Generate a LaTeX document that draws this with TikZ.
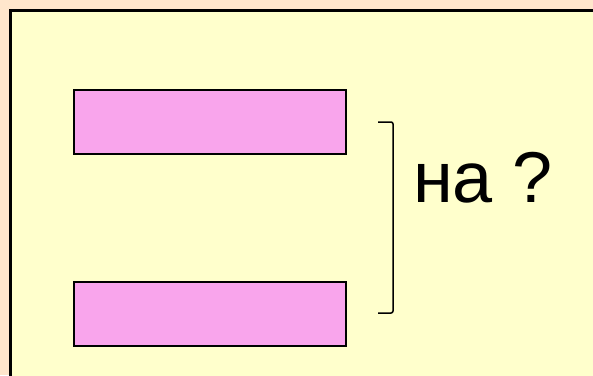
\documentclass[tikz,border=0pt]{standalone}
\usepackage{fontspec}
\setmainfont{Liberation Sans}
\definecolor{peach}{RGB}{255,230,204}
\definecolor{paleyellow}{RGB}{255,255,204}
\definecolor{barpink}{RGB}{249,165,236}
\tikzset{
  bar/.style={draw=black, fill=barpink, line width=1.5pt, minimum width=272pt, minimum height=64pt, inner sep=0pt}
}
\begin{document}
\begin{tikzpicture}[x=1pt,y=-1pt]
				\useasboundingbox (0,0) rectangle (593,375);
				\fill [peach] (0,0) rectangle (593,375);
				\filldraw [fill=paleyellow, draw=black, line width=2.5pt] (10.5,10.5) rectangle (610,390);
				\node [bar] (upper) at (210,122) {};
				\node [bar] (lower) at (210,314) {};
				\draw [line width=1.5pt, rounded corners=2pt] (378,122) -- (393,122) -- (393,313) -- (378,313);
				\node [anchor=base, font=\fontsize{72}{86}\selectfont, inner sep=0pt] (question) at (483,202) {на ?};
			\end{tikzpicture}
\end{document}
